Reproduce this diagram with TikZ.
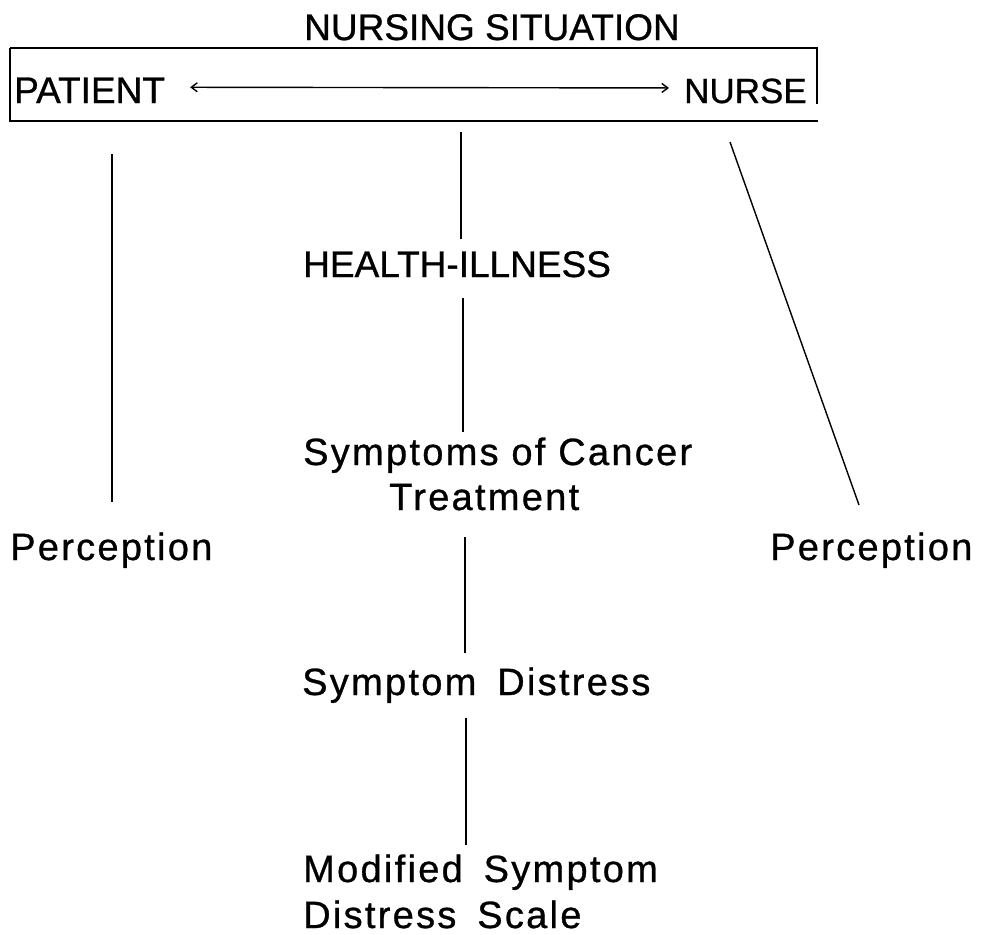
\documentclass[tikz,border=0pt]{standalone}
\usepackage{fontspec}
\setmainfont[FakeBold=0.8]{Liberation Sans}
\newfontfamily\spacedfont[LetterSpace=6,FakeBold=0.8]{Liberation Sans}
\usetikzlibrary{arrows.meta,positioning}
\newcommand{\wgap}{\hspace{0.55em}}

\tikzset{
	capstext/.style={anchor=base west, inner sep=0pt, font=\fontsize{37}{44}\selectfont},
	lowtext/.style={anchor=base west, inner sep=0pt, font=\spacedfont\fontsize{38}{46}\selectfont},
	link/.style={line width=1.4pt},
	frame/.style={line width=1.8pt},
	arr/.style={line width=1.4pt, {Straight Barb[length=6pt,width=9pt]}-{Straight Barb[length=6pt,width=9pt]}},
}

\begin{document}
\begin{tikzpicture}[x=1pt,y=-1pt]
	\useasboundingbox (0,0) rectangle (994,935);
	%
	% nursing situation frame
	\node[capstext] (situation) at (304,40) {NURSING SITUATION};
	\draw[frame] (10,48) -- (818,48);
	\draw[frame] (10,48) -- (10,121) -- (818,121);
	\draw[frame] (817,48) -- (817,104);
	\node[capstext] (patient) at (14,103) {PATIENT};
	\node[capstext,font=\fontsize{35}{42}\selectfont] (nurse) at (684,103) {NURSE};
	\draw[arr] ([shift={(25,-3)}]patient.east) -- ([shift={(-15,-3)}]nurse.west);
	
	% concepts
	\node[capstext] (health) at (303,277) {HEALTH-ILLNESS};
	\node[lowtext] (symptoms) at (303,465) {Symptoms of Cancer};
	\node[lowtext] (treatment) at (389,510) {Treatment};
	\node[lowtext] (distress) at (302,695) {Symptom\wgap Distress};
	\node[lowtext] (modified) at (303,882) {Modified\wgap Symptom};
	\node[lowtext] (scale) at (303,928) {Distress\wgap Scale};
	\node[lowtext] (perleft) at (10,560) {Perception};
	\node[lowtext] (perright) at (770,560) {Perception};
	
	% connectors
	\coordinate (c1) at (461,132);
	\coordinate (c2) at (461,239);
	\coordinate (c3) at (463,298);
	\coordinate (c4) at (463,432);
	\coordinate (c5) at (465,537);
	\coordinate (c6) at (465,653);
	\coordinate (c7) at (466,718);
	\coordinate (c8) at (466,845);
	\coordinate (l1) at (112,154);
	\coordinate (l2) at (112,502);
	\coordinate (r1) at (730,142);
	\coordinate (r2) at (859,505);
	\draw[link] (c1) -- (c2);
	\draw[link] (c3) -- (c4);
	\draw[link] (c5) -- (c6);
	\draw[link] (c7) -- (c8);
	\draw[link] (l1) -- (l2);
	\draw[link] (r1) -- (r2);
\end{tikzpicture}
\end{document}
